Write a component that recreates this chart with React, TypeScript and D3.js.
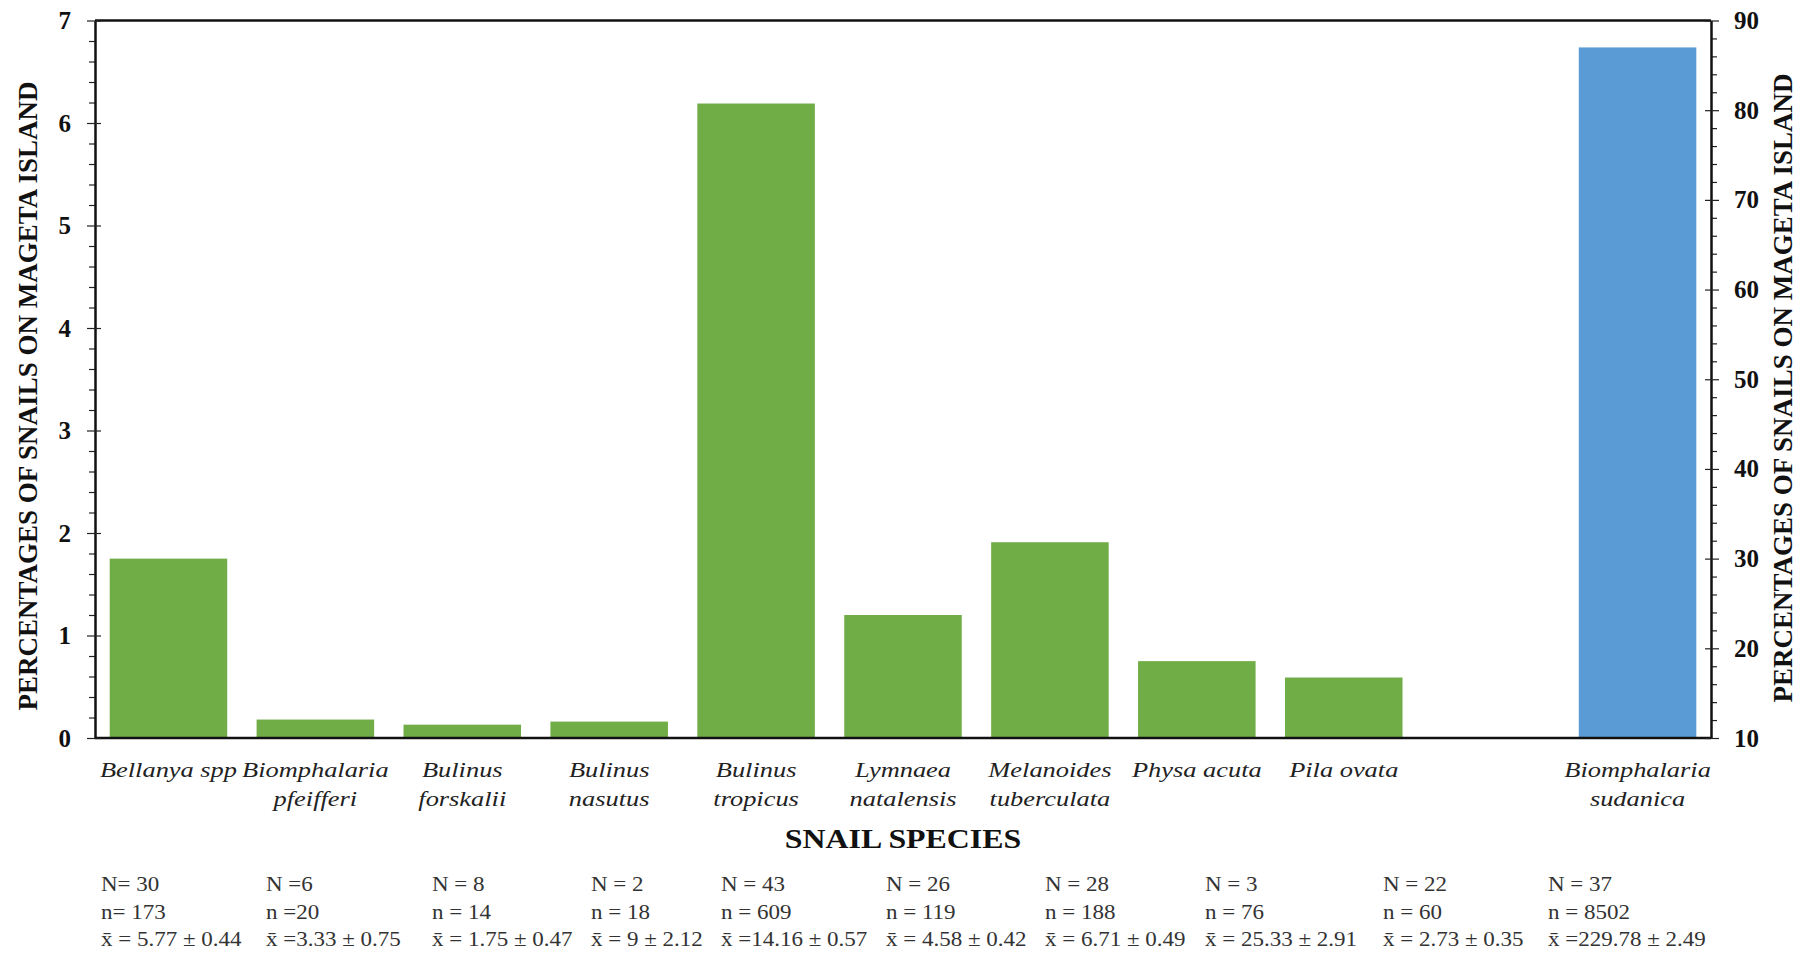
import * as d3 from 'd3';
import React, { useEffect, useRef } from 'react';

// green bars, read against the left axis (%)
const species = [
  'Bellanya spp',
  'Biomphalaria\npfeifferi',
  'Bulinus\nforskalii',
  'Bulinus\nnasutus',
  'Bulinus\ntropicus',
  'Lymnaea\nnatalensis',
  'Melanoides\ntuberculata',
  'Physa acuta',
  'Pila ovata',
];
const greenValues = [1.75, 0.18, 0.13, 0.16, 6.19, 1.2, 1.91, 0.75, 0.59];

// blue bar, read against the right axis (%)
const blueSpecies = 'Biomphalaria\nsudanica';
const blueValue = 87;
const gapSlot = ' ';

const leftTicks = [0, 1, 2, 3, 4, 5, 6, 7];
const rightTicks = [10, 20, 30, 40, 50, 60, 70, 80, 90];

const statN = ['N= 30', 'N =6', 'N = 8', 'N = 2', 'N = 43', 'N = 26', 'N = 28', 'N = 3', 'N = 22', 'N = 37'];
const statSmallN = ['n= 173', 'n =20', 'n = 14', 'n = 18', 'n = 609', 'n = 119', 'n = 188', 'n = 76', 'n = 60', 'n = 8502'];
const statMean = [
  'x̄ = 5.77 ± 0.44',
  'x̄ =3.33 ± 0.75',
  'x̄ = 1.75 ± 0.47',
  'x̄ = 9 ± 2.12',
  'x̄ =14.16 ± 0.57',
  'x̄ = 4.58 ± 0.42',
  'x̄ = 6.71 ± 0.49',
  'x̄ = 25.33 ± 2.91',
  'x̄ = 2.73 ± 0.35',
  'x̄ =229.78 ± 2.49',
];

const yTitle = 'PERCENTAGES OF SNAILS ON MAGETA ISLAND';
const xTitle = 'SNAIL SPECIES';

// layout: left edge of each column of the stats table under the chart
const statColumnX = [101, 266, 432, 591, 721, 886, 1045, 1205, 1383, 1548];

const W = 1800;
const H = 954;
const margin = { top: 20.5, right: 89, bottom: 216, left: 95 };
const serif = "'Liberation Serif', 'Times New Roman', serif";
const green = '#70ad47';
const blue = '#5b9bd5';

const App = () => {
  const svgRef = useRef(null);

  useEffect(() => {
    const svg = d3.select(svgRef.current);
    svg.selectAll('*').remove();

    const x0 = margin.left;
    const x1 = W - margin.right;
    const y0 = H - margin.bottom;
    const y1 = margin.top;

    const x = d3
      .scaleBand()
      .domain([...species, gapSlot, blueSpecies])
      .range([x0, x1])
      .paddingInner(0.2)
      .paddingOuter(0.1);
    const yLeft = d3.scaleLinear().domain([0, 7]).range([y0, y1]);
    const yRight = d3.scaleLinear().domain([10, 90]).range([y0, y1]);

    // bars
    svg
      .append('g')
      .selectAll('rect.green')
      .data(species)
      .enter()
      .append('rect')
      .attr('x', (d) => x(d))
      .attr('y', (d, i) => yLeft(greenValues[i]))
      .attr('width', x.bandwidth())
      .attr('height', (d, i) => y0 - yLeft(greenValues[i]))
      .attr('fill', green);

    svg
      .append('rect')
      .attr('x', x(blueSpecies))
      .attr('y', yRight(blueValue))
      .attr('width', x.bandwidth())
      .attr('height', y0 - yRight(blueValue))
      .attr('fill', blue);

    // frame: top and bottom lines
    [y1, y0].forEach((yy) => {
      svg
        .append('line')
        .attr('x1', x0)
        .attr('x2', x1)
        .attr('y1', yy)
        .attr('y2', yy)
        .attr('stroke', '#111')
        .attr('stroke-width', 2.5);
    });

    // left axis
    const leftMinor = d3.range(0, 7.001, 0.2).filter((v) => Math.abs(v - Math.round(v)) > 0.01);
    svg
      .append('g')
      .attr('transform', `translate(${x0},0)`)
      .call(d3.axisLeft(yLeft).tickValues(leftMinor).tickSize(6).tickSizeOuter(0).tickFormat(() => ''))
      .call((g) => g.select('.domain').remove())
      .call((g) => g.selectAll('.tick line').attr('stroke', '#222').attr('stroke-width', 1.2));

    const leftAxis = svg
      .append('g')
      .attr('transform', `translate(${x0},0)`)
      .call(d3.axisLeft(yLeft).tickValues(leftTicks).tickFormat(d3.format('d')).tickSize(8).tickSizeOuter(0).tickPadding(16));
    leftAxis.select('.domain').attr('stroke', '#111').attr('stroke-width', 2.5);
    leftAxis.selectAll('.tick line').attr('x1', 6).attr('stroke', '#222').attr('stroke-width', 1.2);
    leftAxis
      .selectAll('.tick text')
      .attr('font-family', serif)
      .attr('font-size', 25)
      .attr('font-weight', 'bold')
      .attr('fill', '#111');

    // right axis
    const rightMinor = d3.range(10, 90.001, 2).filter((v) => v % 10 !== 0);
    svg
      .append('g')
      .attr('transform', `translate(${x1},0)`)
      .call(d3.axisRight(yRight).tickValues(rightMinor).tickSize(6).tickSizeOuter(0).tickFormat(() => ''))
      .call((g) => g.select('.domain').remove())
      .call((g) => g.selectAll('.tick line').attr('stroke', '#222').attr('stroke-width', 1.2));

    const rightAxis = svg
      .append('g')
      .attr('transform', `translate(${x1},0)`)
      .call(d3.axisRight(yRight).tickValues(rightTicks).tickFormat(d3.format('d')).tickSize(8).tickSizeOuter(0).tickPadding(15));
    rightAxis.select('.domain').attr('stroke', '#111').attr('stroke-width', 2.5);
    rightAxis.selectAll('.tick line').attr('x1', -6).attr('stroke', '#222').attr('stroke-width', 1.2);
    rightAxis
      .selectAll('.tick text')
      .attr('font-family', serif)
      .attr('font-size', 25)
      .attr('font-weight', 'bold')
      .attr('fill', '#111');

    // category labels (italic, two lines where the name wraps)
    const cats = svg
      .append('g')
      .selectAll('g.cat')
      .data([...species, blueSpecies])
      .enter()
      .append('g')
      .attr('transform', (d) => `translate(${x(d) + x.bandwidth() / 2},0)`);
    cats.each(function (d) {
      d.split('\n').forEach((line, i) => {
        d3.select(this)
          .append('text')
          .attr('transform', `translate(0,${777 + i * 29}) scale(1.2,1)`)
          .attr('text-anchor', 'middle')
          .attr('font-family', serif)
          .attr('font-style', 'italic')
          .attr('font-size', 22)
          .attr('fill', '#222')
          .text(line);
      });
    });

    // x title
    svg
      .append('text')
      .attr('transform', `translate(${(x0 + x1) / 2},848) scale(1.18,1)`)
      .attr('text-anchor', 'middle')
      .attr('font-family', serif)
      .attr('font-weight', 'bold')
      .attr('font-size', 27)
      .attr('fill', '#111')
      .text(xTitle);

    // y titles
    svg
      .append('text')
      .attr('transform', `translate(37,396) rotate(-90)`)
      .attr('text-anchor', 'middle')
      .attr('font-family', serif)
      .attr('font-weight', 'bold')
      .attr('font-size', 27)
      .attr('fill', '#111')
      .text(yTitle);
    svg
      .append('text')
      .attr('transform', `translate(1792,388) rotate(-90)`)
      .attr('text-anchor', 'middle')
      .attr('font-family', serif)
      .attr('font-weight', 'bold')
      .attr('font-size', 27)
      .attr('fill', '#111')
      .text(yTitle);

    // sample stats under the chart
    [statN, statSmallN, statMean].forEach((row, r) => {
      svg
        .append('g')
        .selectAll('text')
        .data(row)
        .enter()
        .append('text')
        .attr('transform', (d, i) => `translate(${statColumnX[i]},${891 + r * 27.5}) scale(1.15,1)`)
        .attr('font-family', serif)
        .attr('font-size', 20)
        .attr('fill', '#333')
        .text((d) => d);
    });
  }, []);

  return (
    <svg
      ref={svgRef}
      width={W}
      height={H}
      style={{ position: 'absolute', left: 0, top: 0, display: 'block', background: '#fff' }}
    />
  );
};

export default App;
